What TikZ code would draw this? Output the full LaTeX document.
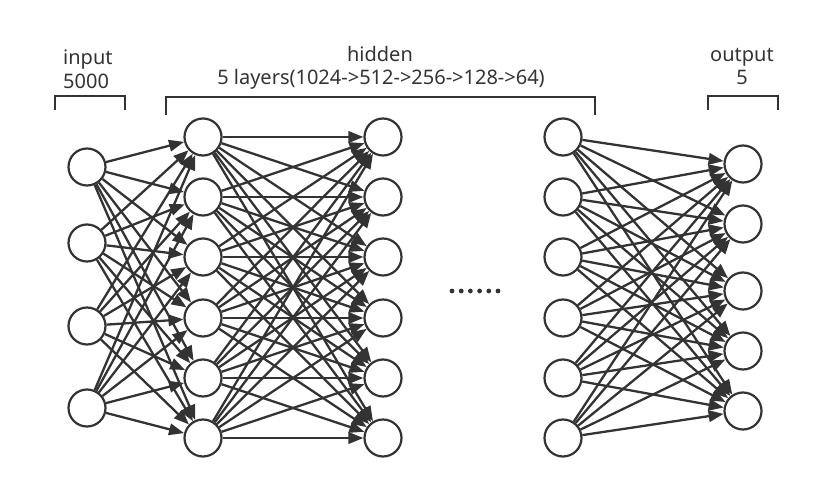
\documentclass[tikz,border=0pt]{standalone}
\usepackage{fontspec}
\setmainfont{Noto Sans}
\usetikzlibrary{arrows.meta}
\definecolor{linec}{HTML}{333333}
\begin{document}
\begin{tikzpicture}[x=1pt,y=-1pt,
  neuron/.style={circle,draw=linec,line width=2.2pt,minimum size=37pt,inner sep=0pt,fill=white},
  conn/.style={draw=linec,line width=2.3pt,-{Triangle[length=15pt,width=11.5pt]}},
  brk/.style={draw=linec,line width=2.2pt},
  lbl/.style={text=linec,font=\fontsize{20}{24}\selectfont,inner sep=0pt},
  dotn/.style={circle,fill=linec,inner sep=0pt,minimum size=4.8pt}]
\useasboundingbox (0,0) rectangle (814,489);
% input layer
\foreach \y [count=\i] in {167,243,326,408} \node[neuron] (in\i) at (87,\y) {};
% hidden layers
\foreach \y [count=\i] in {137,197,257,318,378,438} {
  \node[neuron] (ha\i) at (203,\y) {};
  \node[neuron] (hb\i) at (383,\y) {};
  \node[neuron] (hc\i) at (563,\y) {};
}
% output layer
\foreach \y [count=\i] in {164,224,291,351,411} \node[neuron] (out\i) at (743,\y) {};
% connections
\foreach \i in {1,...,4} \foreach \j in {1,...,6} \draw[conn] (in\i) -- (ha\j);
\foreach \i in {1,...,6} \foreach \j in {1,...,6} \draw[conn] (ha\i) -- (hb\j);
\foreach \i in {1,...,6} \foreach \j in {1,...,5} \draw[conn] (hc\i) -- (out\j);
% dots
\foreach \k in {0,...,5} \node[dotn] (dot\k) at (452+9.2*\k,291) {};
% brackets
\draw[brk] (55,110) -- (55,96) -- (125,96) -- (125,110);
\draw[brk] (166,115) -- (166,97) -- (595,97) -- (595,115);
\draw[brk] (708,110) -- (708,96) -- (778,96) -- (778,110);
% labels
\node[lbl,anchor=base west] (tin) at (63,65) {input};
\node[lbl,anchor=base west] (tin2) at (63,89) {5000};
\node[lbl,anchor=base] (thid) at (380,62) {hidden};
\node[lbl,anchor=base] (thid2) at (381,85) {5 layers(1024->512->256->128->64)};
\node[lbl,anchor=base] (tout) at (742,62) {output};
\node[lbl,anchor=base] (tout2) at (742,85) {5};
\end{tikzpicture}
\end{document}
